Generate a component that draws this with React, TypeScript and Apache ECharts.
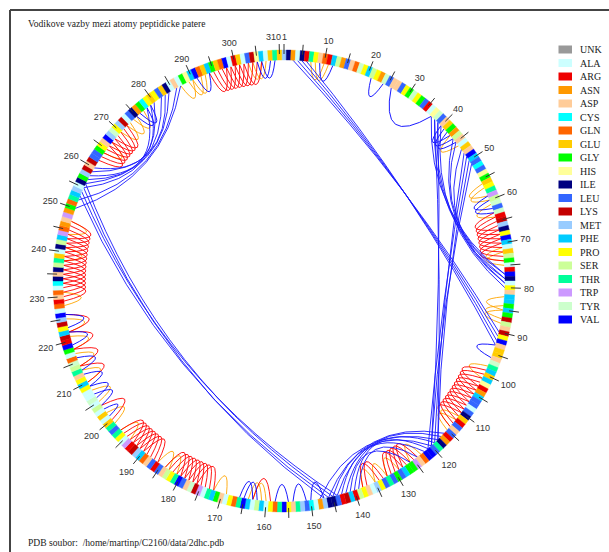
import React, { useEffect, useRef } from "react";
import * as echarts from "echarts";

// ---- data ----
const N_RESIDUES = 310;
const SEQUENCE =
  "MINAIRTPDQRFSNLDQYPFSPNYLDDLPGYPGLRAHYLDEGNSDAEDVFLCLHGEPTWSYLYRKMIPVFAESGARVIAPDFFGFGKSDKPVDEEDYTFEFHRNFLLALIERLDLRNITLVVQDWGGFLGLTLPMADPSRFKRLIIMNACLMTDPVTQPAFSAFVTQPADGFTAWKYDLVTPSDLRLDQFMKRWAPTLTEAEASAYAAPFPDTSYQAGVRKFPKMVAQRDQACIDISTEAISFWQNDWNGQTFMAIGMKDKLLGPDVMYPMKALINGCPEPLEIADAGHFVQEFGEQVAREALKHFAETE";

const ONE_LETTER = ["X", "A", "R", "N", "D", "C", "Q", "E", "G", "H", "I", "L", "K", "M", "F", "P", "S", "T", "W", "Y", "V"];
const LEGEND_NAMES = ["UNK", "ALA", "ARG", "ASN", "ASP", "CYS", "GLN", "GLU", "GLY", "HIS", "ILE", "LEU", "LYS", "MET", "PHE", "PRO", "SER", "THR", "TRP", "TYR", "VAL"];
const LEGEND_COLORS = ["#999999", "#ccffff", "#ee0000", "#ff9900", "#ffcc99", "#00ffff", "#ff6600", "#ffcc00", "#00ff00", "#ffff99", "#000080", "#3366ff", "#c40000", "#99ccff", "#00ccff", "#ffff00", "#ccff99", "#00ff99", "#cc99ff", "#ccffcc", "#0000ff"];

const TICK_RESIDUES = [1, 5, 10, 15, 20, 25, 30, 35, 40, 45, 50, 55, 60, 65, 70, 75, 80, 85, 90, 95, 100, 105, 110, 115, 120, 125, 130, 135, 140, 145, 150, 155, 160, 165, 170, 175, 180, 185, 190, 195, 200, 205, 210, 215, 220, 225, 230, 235, 240, 245, 250, 255, 260, 265, 270, 275, 280, 285, 290, 295, 300, 305, 310];
const LABEL_RESIDUES = [1, 10, 20, 30, 40, 50, 60, 70, 80, 90, 100, 110, 120, 130, 140, 150, 160, 170, 180, 190, 200, 210, 220, 230, 240, 250, 260, 270, 280, 290, 300, 310];

// hydrogen bonds [residue, residue]
const RED_BONDS = [
  [63, 67], [64, 68], [65, 69], [66, 70], [67, 71], [68, 72], [69, 73], [70, 74],
  [99, 103], [100, 104], [101, 105], [102, 106], [103, 107], [104, 108], [105, 109], [106, 110], [107, 111], [108, 112], [109, 113], [110, 114],
  [124, 128], [125, 129], [126, 130], [127, 131], [128, 132], [133, 137], [134, 138],
  [159, 163],
  [172, 176], [173, 177], [174, 178], [175, 179], [176, 180], [177, 181], [178, 182], [179, 183], [180, 184],
  [186, 190], [187, 191], [188, 192], [189, 193], [190, 194], [191, 195], [192, 196], [193, 197],
  [200, 204], [210, 214], [214, 218], [218, 222], [222, 226],
  [229, 233], [230, 234], [231, 235], [232, 236], [233, 237], [234, 238], [235, 239], [236, 240], [237, 241], [238, 242], [239, 243], [240, 244], [241, 245], [242, 246], [243, 247],
  [262, 266], [263, 267], [264, 268], [265, 269], [266, 270], [267, 271], [268, 272],
  [294, 298], [295, 299], [296, 300], [297, 301], [298, 302], [299, 303], [300, 304], [301, 305], [302, 306],
];
const ORANGE_BONDS = [
  [7, 10], [8, 11], [43, 46], [56, 59], [57, 60], [61, 64], [71, 74], [72, 75],
  [82, 85], [84, 87], [85, 88], [98, 101], [111, 114], [112, 115],
  [123, 126], [129, 132], [132, 135], [135, 138], [160, 163], [161, 164],
  [169, 172], [181, 184], [183, 186], [194, 197], [199, 202], [205, 208], [210, 213], [214, 217], [218, 221], [222, 225],
  [228, 231], [238, 241], [244, 247], [264, 267], [270, 273], [272, 275], [274, 277],
  [287, 290], [289, 292], [290, 293], [303, 306], [304, 307],
];
const BLUE_SHORT_BONDS = [
  [9, 12], [21, 24], [26, 37], [40, 43], [41, 44], [42, 45], [59, 62], [60, 63], [93, 96],
  [147, 150], [151, 154], [155, 158], [162, 165], [163, 166],
  [201, 203], [204, 207], [206, 209], [209, 212], [213, 216], [219, 222], [223, 226],
  [275, 278], [276, 279], [291, 294], [305, 308], [306, 309],
];
const BLUE_LONG_BONDS = [
  [3, 90], [4, 91], [5, 92], [6, 93],
  [37, 77], [38, 79], [39, 78], [40, 80], [44, 79], [45, 77], [47, 78],
  [38, 118], [39, 120], [48, 119], [49, 121], [50, 118], [51, 120],
  [116, 146], [117, 144], [118, 148], [119, 142], [120, 145], [121, 140], [122, 143], [124, 139], [126, 141],
  [253, 146], [254, 144], [255, 147], [256, 145],
  [250, 287], [252, 286], [255, 282], [256, 284], [257, 280], [258, 278], [259, 283], [260, 279],
];

const TITLE = "Vodikove vazby mezi atomy peptidicke patere";
const FOOTER = "PDB soubor:  /home/martinp/C2160/data/2dhc.pdb";

// ---- layout ----
const W = 609;
const H = 552;
const CX = 284;
const CY = 281;
const R_OUT = 231;
const R_IN = 221;

function residueColor(i: number): string {
  const ch = SEQUENCE.charAt(i - 1);
  const k = ONE_LETTER.indexOf(ch);
  return LEGEND_COLORS[k < 0 ? 0 : k];
}

function controlRadius(span: number): number {
  if (span <= 2) return 193;
  if (span <= 3) return 186;
  if (span <= 4) return 176;
  if (span <= 15) return 165;
  return 158;
}

function bondSeries(name: string, bonds: number[][], color: string, width: number) {
  return {
    name,
    type: "custom",
    coordinateSystem: "polar",
    silent: true,
    data: bonds.map((b) => [b[0], b[1]]),
    renderItem: (params: any, api: any) => {
      const f = api.value(0) - 1;
      const t = api.value(1) - 1;
      const p0 = api.coord([R_IN, f]);
      const p2 = api.coord([R_IN, t]);
      const c = api.coord([controlRadius(Math.abs(t - f)), (f + t) / 2]);
      return {
        type: "bezierCurve",
        shape: { x1: p0[0], y1: p0[1], x2: p2[0], y2: p2[1], cpx1: c[0], cpy1: c[1] },
        style: { stroke: color, fill: null, lineWidth: width },
      };
    },
  };
}

const TXT = (align: string, vAlign: string) => ({
  align,
  verticalAlign: vAlign,
  textAlign: align,
  textVerticalAlign: vAlign,
});

export default function App() {
  const ref = useRef<HTMLDivElement>(null);
  useEffect(() => {
    if (!ref.current) return;
    const chart = echarts.init(ref.current, null, { renderer: "svg" });

    const residues = [];
    for (let i = 1; i <= N_RESIDUES; i++) residues.push([R_OUT, i - 1]);

    const legendEls: any[] = [];
    LEGEND_NAMES.forEach((name, k) => {
      const yc = 49.5 + k * 13.5;
      legendEls.push({
        type: "rect",
        shape: { x: 558.5, y: yc - 4, width: 13.5, height: 8 },
        style: { fill: LEGEND_COLORS[k] },
      });
      legendEls.push({
        type: "text",
        x: 580,
        y: yc,
        style: { text: name, fill: "#222", font: "10px 'Liberation Serif', serif", ...TXT("left", "middle") },
      });
    });

    const option: any = {
      animation: false,
      backgroundColor: "#ffffff",
      polar: { center: [CX, CY], radius: R_OUT },
      angleAxis: { type: "value", min: 0, max: N_RESIDUES, startAngle: 90, clockwise: true, show: false },
      radiusAxis: { type: "value", min: 0, max: R_OUT, show: false },
      graphic: [
        { type: "line", shape: { x1: 10, y1: 10, x2: W, y2: 10 }, style: { stroke: "#444", lineWidth: 2 } },
        { type: "line", shape: { x1: 10, y1: 10, x2: 10, y2: H }, style: { stroke: "#444", lineWidth: 2 } },
        {
          type: "text", x: 28, y: 23,
          style: { text: TITLE, fill: "#222", font: "9.6px 'Liberation Serif', serif", ...TXT("left", "middle") },
        },
        {
          type: "text", x: 28, y: 542,
          style: { text: FOOTER, fill: "#222", font: "9.6px 'Liberation Serif', serif", ...TXT("left", "middle") },
        },
        ...legendEls,
      ],
      series: [
        bondSeries("orange", ORANGE_BONDS, "#ffa500", 0.9),
        bondSeries("red", RED_BONDS, "#ff0000", 0.9),
        bondSeries("blueShort", BLUE_SHORT_BONDS, "#0000ff", 0.9),
        bondSeries("blueLong", BLUE_LONG_BONDS, "#1a1aff", 0.9),
        {
          name: "ring",
          type: "custom",
          coordinateSystem: "polar",
          silent: true,
          data: residues,
          renderItem: (params: any, api: any) => {
            const a = api.value(1);
            const color = residueColor(params.dataIndex + 1);
            const pts: number[][] = [];
            for (let k = 0; k <= 2; k++) pts.push(api.coord([R_OUT, a - 0.5 + k / 2]));
            for (let k = 2; k >= 0; k--) pts.push(api.coord([R_IN, a - 0.5 + k / 2]));
            return { type: "polygon", shape: { points: pts }, style: { fill: color, stroke: color, lineWidth: 0.4 } };
          },
        },
        {
          name: "ticks",
          type: "custom",
          coordinateSystem: "polar",
          silent: true,
          data: TICK_RESIDUES.map((r) => [R_OUT, r - 1]),
          renderItem: (params: any, api: any) => {
            const a = api.value(1);
            const p0 = api.coord([R_OUT - 4, a]);
            const p1 = api.coord([R_OUT + 6, a]);
            return { type: "line", shape: { x1: p0[0], y1: p0[1], x2: p1[0], y2: p1[1] }, style: { stroke: "#333", lineWidth: 1 } };
          },
        },
        {
          name: "labels",
          type: "custom",
          coordinateSystem: "polar",
          silent: true,
          data: LABEL_RESIDUES.map((r) => [R_OUT, r - 1, r]),
          renderItem: (params: any, api: any) => {
            const a = api.value(1);
            const label = String(api.value(2));
            const c = api.coord([0, a]);
            const p = api.coord([R_OUT, a]);
            const dx = (p[0] - c[0]) / R_OUT;
            const dy = (p[1] - c[1]) / R_OUT;
            const w = label.length * 5;
            const q = api.coord([R_OUT + 9, a]);
            let x = q[0] + dx * (w / 2);
            const y = q[1] + dy * 4 + 3 * Math.max(dy, 0);
            let align = "center";
            if (Math.abs(dx) < 0.12 && dy < 0) {
              // near the top: keep labels on their own side of the tick
              align = dx < 0 ? "right" : "left";
              x = q[0] + (dx < 0 ? 2 : -2);
            }
            return {
              type: "text",
              x,
              y,
              style: {
                text: label,
                fill: "#333",
                font: "9px 'Liberation Sans', Arial, sans-serif",
                ...TXT(align, "middle"),
              },
            };
          },
        },
      ],
    };
    chart.setOption(option);
    return () => chart.dispose();
  }, []);
  return (
    <div
      ref={ref}
      style={{ position: "fixed", left: 0, top: 0, width: W, height: H, background: "#fff" }}
    />
  );
}
